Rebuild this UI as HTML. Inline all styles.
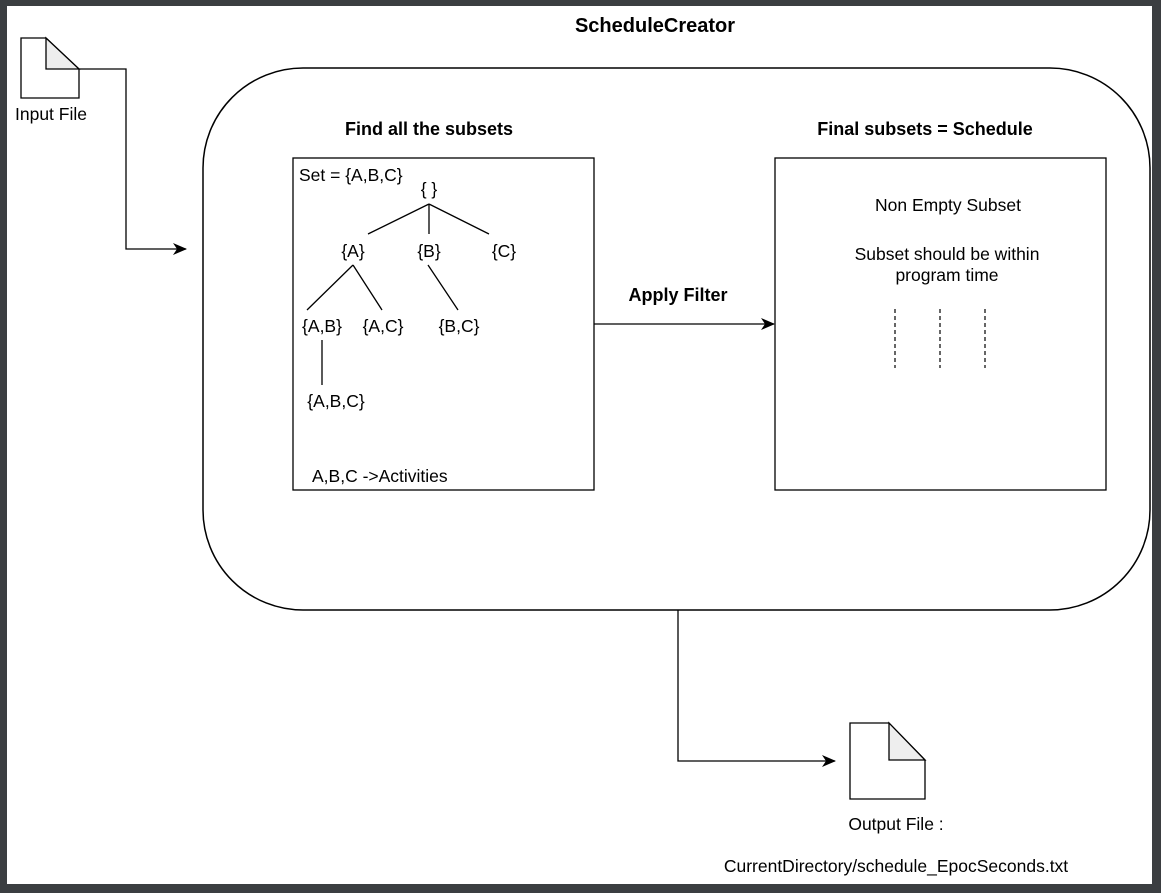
<!DOCTYPE html>
<html><head><style>
html,body{margin:0;padding:0;background:#3b3e41;}
svg{display:block;}
text{font-family:"Liberation Sans",Arial,sans-serif;fill:#000;}
</style></head><body>
<svg width="1161" height="893" viewBox="0 0 1161 893" xmlns="http://www.w3.org/2000/svg">
<rect x="0" y="0" width="1161" height="893" fill="#3b3e41"/>
<rect x="7" y="6" width="1145" height="878" fill="#fff"/>
<defs><marker id="ar" markerWidth="14" markerHeight="12" refX="13" refY="6" orient="auto" markerUnits="userSpaceOnUse"><path d="M0,0 L14,6 L0,12 L4,6 z" fill="#000"/></marker></defs>
<text x="655" y="32" font-size="20" font-weight="bold" text-anchor="middle">ScheduleCreator</text>
<path d="M21,38 H46 L79,69 V98 H21 Z" fill="#fff" stroke="#000" stroke-width="1.3"/>
<path d="M46,38 V69 H79 Z" fill="#eee" stroke="#000" stroke-width="1.3"/>
<text x="51" y="120" font-size="17.5" text-anchor="middle">Input File</text>
<path d="M79,69 H126 V249 H186" fill="none" stroke="#000" stroke-width="1.3" marker-end="url(#ar)"/>
<rect x="203" y="68" width="947" height="542" rx="100" ry="100" fill="#fff" stroke="#000" stroke-width="1.5"/>
<text x="429" y="135" font-size="18" font-weight="bold" text-anchor="middle">Find all the subsets</text>
<text x="925" y="135" font-size="18" font-weight="bold" text-anchor="middle">Final subsets = Schedule</text>
<rect x="293" y="158" width="301" height="332" fill="#fff" stroke="#000" stroke-width="1.3"/>
<rect x="775" y="158" width="331" height="332" fill="#fff" stroke="#000" stroke-width="1.3"/>
<g font-size="17.5">
<text x="299" y="181">Set = {A,B,C}</text>
<text x="429" y="195" text-anchor="middle">{  }</text>
<text x="353" y="257" text-anchor="middle">{A}</text>
<text x="429" y="257" text-anchor="middle">{B}</text>
<text x="504" y="257" text-anchor="middle">{C}</text>
<text x="322" y="332" text-anchor="middle">{A,B}</text>
<text x="383" y="332" text-anchor="middle">{A,C}</text>
<text x="459" y="332" text-anchor="middle">{B,C}</text>
<text x="336" y="407" text-anchor="middle">{A,B,C}</text>
<text x="312" y="482">A,B,C -&gt;Activities</text>
<text x="948" y="211" text-anchor="middle">Non Empty Subset</text>
<text x="947" y="260" text-anchor="middle">Subset should be within</text>
<text x="947" y="281" text-anchor="middle">program time</text>
</g>
<g stroke="#000" stroke-width="1.3" fill="none">
<path d="M429,204 L368,234 M429,204 V234 M429,204 L489,234"/>
<path d="M353,265 L307,310 M353,265 L382,310 M428,265 L458,310 M322,340 V385"/>
</g>
<g stroke="#000" stroke-width="1.2" stroke-dasharray="4,3">
<line x1="895" y1="309" x2="895" y2="368"/>
<line x1="940" y1="309" x2="940" y2="368"/>
<line x1="985" y1="309" x2="985" y2="368"/>
</g>
<path d="M594,324 H774" fill="none" stroke="#000" stroke-width="1.3" marker-end="url(#ar)"/>
<text x="678" y="301" font-size="18" font-weight="bold" text-anchor="middle">Apply Filter</text>
<path d="M678,610 V761 H835" fill="none" stroke="#000" stroke-width="1.3" marker-end="url(#ar)"/>
<path d="M850,723 H889 L925,760 V799 H850 Z" fill="#fff" stroke="#000" stroke-width="1.3"/>
<path d="M889,723 V760 H925 Z" fill="#eee" stroke="#000" stroke-width="1.3"/>
<text x="896" y="830" font-size="17.5" text-anchor="middle">Output File :</text>
<text x="896" y="872" font-size="17.5" text-anchor="middle">CurrentDirectory/schedule_EpocSeconds.txt</text>
</svg>
</body></html>
